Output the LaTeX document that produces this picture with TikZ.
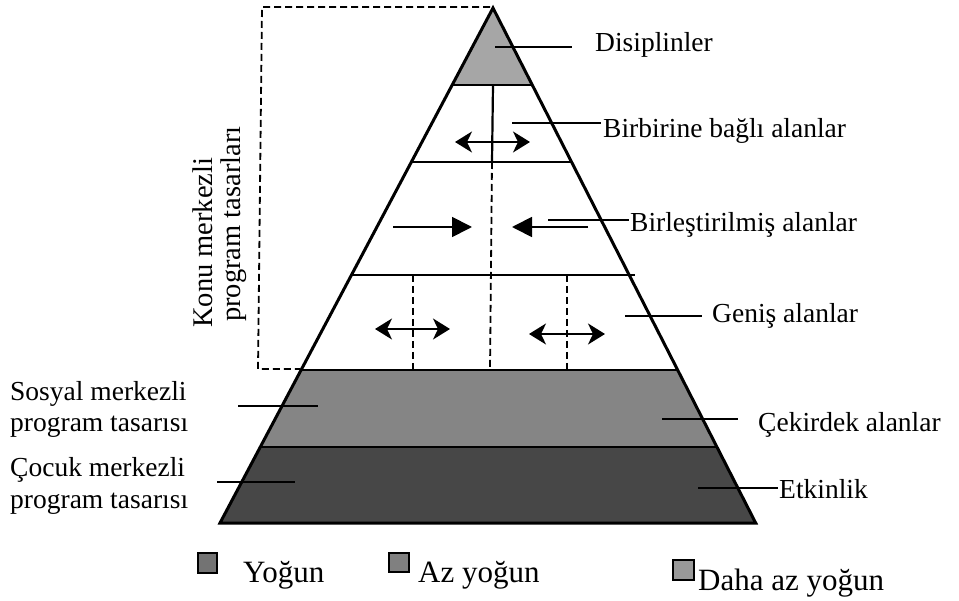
\documentclass[tikz,border=0pt]{standalone}
\usepackage{fontspec}
\setmainfont{Liberation Serif}
\usetikzlibrary{arrows.meta,calc}
\tikzset{
  lbl/.style={anchor=base west,inner sep=0pt,font=\fontsize{27.5}{30}\selectfont},
  vlbl/.style={anchor=base west,inner sep=0pt,rotate=90,font=\fontsize{28.5}{30}\selectfont},
  leg/.style={anchor=base west,inner sep=0pt,font=\fontsize{31}{34}\selectfont},
  outline/.style={line width=3pt,line join=miter},
  tier/.style={line width=2.2pt},
  leader/.style={line width=1.8pt},
  dsh/.style={line width=1.8pt,dash pattern=on 7pt off 4pt},
  dbl/.style={line width=1.8pt,{Stealth[length=17pt,width=21pt,inset=5pt]}-{Stealth[length=17pt,width=21pt,inset=5pt]}},
  tri/.style={line width=1.8pt,-{Triangle[length=20pt,width=20pt]}},
  sq/.style={draw=black,line width=1.2pt}
}
\begin{document}
\begin{tikzpicture}[x=1pt,y=-1pt]
\useasboundingbox (0,0) rectangle (959,601);
% pyramid corners
\coordinate (A) at (493,8);
\coordinate (L1) at (452.2,85);  \coordinate (R1) at (532.3,85);
\coordinate (L2) at (411.4,162); \coordinate (R2) at (571.5,162);
\coordinate (L3) at (351.5,275); \coordinate (R3) at (629.2,275);
\coordinate (R3x) at (635,275);
\coordinate (L4) at (301.1,370); \coordinate (R4) at (677.6,370);
\coordinate (L5) at (260.3,447); \coordinate (R5) at (716.9,447);
\coordinate (L6) at (220.0,523); \coordinate (R6) at (755.7,523);
% fills
\fill[black!35] (A) -- (L1) -- (R1) -- cycle;
\fill[black!48] (L4) -- (R4) -- (R5) -- (L5) -- cycle;
\fill[black!72] (L5) -- (R5) -- (R6) -- (L6) -- cycle;
% tier lines
\draw[tier] (L1) -- (R1);
\draw[tier] (L2) -- (R2);
\draw[tier] (L3) -- (R3x);
\draw[tier] (L4) -- (R4);
\draw[tier] (L5) -- (R5);
% outline
\draw[outline] (L6) -- (A) -- (R6) -- cycle;
% vertical dividers
\coordinate (V1) at (493,85); \coordinate (V2) at (492,162); \coordinate (V3) at (490,370);
\draw[tier] (V1) -- (V2);
\draw[dsh] (V2) -- (V3);
\coordinate (D1a) at (413,275); \coordinate (D1b) at (413,370);
\coordinate (D2a) at (567,275); \coordinate (D2b) at (567,370);
\draw[dsh] (D1a) -- (D1b);
\draw[dsh] (D2a) -- (D2b);
% dashed box
\coordinate (B1) at (490,7); \coordinate (B2) at (262,7);
\coordinate (B3) at (258,369); \coordinate (B4) at (300,369);
\draw[dsh] (B1) -- (B2) -- (B3) -- (B4);
% arrows
\coordinate (a1) at (455,142); \coordinate (a2) at (530,142);
\draw[dbl] (a1) -- (a2);
\coordinate (b1) at (393,227); \coordinate (b2) at (472,227);
\draw[tri] (b1) -- (b2);
\coordinate (b3) at (588,227); \coordinate (b4) at (512,227);
\draw[tri] (b3) -- (b4);
\coordinate (c1) at (375,329); \coordinate (c2) at (450,329);
\draw[dbl] (c1) -- (c2);
\coordinate (c3) at (529,334); \coordinate (c4) at (605,334);
\draw[dbl] (c3) -- (c4);
% right labels
\node[lbl] (t1) at (595,52) {Disiplinler};
\node[lbl] (t2) at (603,138) {Birbirine bağlı alanlar};
\node[lbl] (t3) at (630,232) {Birleştirilmiş alanlar};
\node[lbl] (t4) at (712,323) {Geniş alanlar};
\node[lbl] (t5) at (758,432) {Çekirdek alanlar};
\node[lbl] (t6) at (779,498) {Etkinlik};
\coordinate (p1) at (495,47);  \coordinate (q1) at (572,47);
\coordinate (p2) at (512,123); \coordinate (q2) at (601,123);
\coordinate (p3) at (548,220); \coordinate (q3) at (629,220);
\coordinate (p4) at (625,316); \coordinate (q4) at (702,316);
\coordinate (p5) at (662,419); \coordinate (q5) at (738,419);
\coordinate (p6) at (698,488); \coordinate (q6) at (778,488);
\draw[leader] (p1) -- (q1);
\draw[leader] (p2) -- (q2);
\draw[leader] (p3) -- (q3);
\draw[leader] (p4) -- (q4);
\draw[leader] (p5) -- (q5);
\draw[leader] (p6) -- (q6);
% left labels
\node[lbl] (s1) at (10,401) {Sosyal merkezli};
\node[lbl] (s2) at (10,432) {program tasarısı};
\node[lbl] (k1) at (10,477) {Çocuk merkezli};
\node[lbl] (k2) at (10,508) {program tasarısı};
\coordinate (p7) at (238,406); \coordinate (q7) at (318,406);
\coordinate (p8) at (217,482); \coordinate (q8) at (295,482);
\draw[leader] (p7) -- (q7);
\draw[leader] (p8) -- (q8);
% vertical label
\node[vlbl] (v1) at (212,328) {Konu merkezli};
\node[vlbl] (v2) at (240,322) {program tasarları};
% legend
\filldraw[sq,fill=black!55] (198,553) rectangle (217,573);
\node[leg] (g1) at (243,582) {Yoğun};
\filldraw[sq,fill=black!50] (389,553) rectangle (409,572);
\node[leg] (g2) at (418,582) {Az yoğun};
\filldraw[sq,fill=black!40] (673,560) rectangle (694,580);
\node[leg] (g3) at (698,590) {Daha az yoğun};
\end{tikzpicture}
\end{document}
